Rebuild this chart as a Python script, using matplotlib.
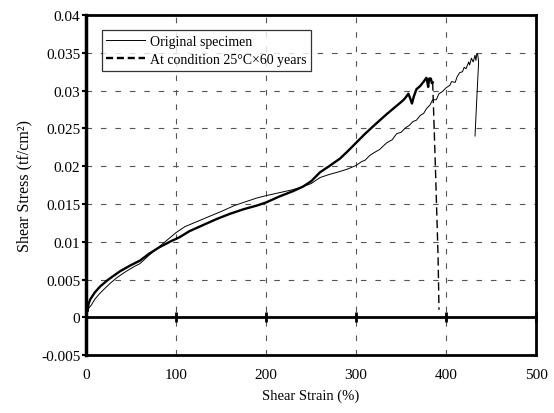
import numpy as np
import matplotlib
matplotlib.use("Agg")
import matplotlib.pyplot as plt

plt.rcParams["font.family"] = ["Liberation Serif", "DejaVu Serif"]
plt.rcParams["font.size"] = 10.5

# --- data ---
orig_x = [0, 1, 3, 6, 10, 15, 20, 27, 35, 45, 55, 60, 70, 82, 90, 100, 110,
          120, 130, 140, 152, 165, 180, 190, 200, 215, 230, 241, 250, 260,
          270, 282, 290, 300, 306, 310, 315, 320, 326, 334, 340, 345, 350,
          355, 359, 363, 367, 371, 375, 378, 382, 385, 389, 392, 396, 400,
          404, 406, 410, 412, 415, 418, 420, 422, 425, 426, 428, 430, 432,
          433, 434, 435, 436, 434, 432]
orig_y = [0.0, 0.0008, 0.0012, 0.0016, 0.0024, 0.0031, 0.0037, 0.0045,
          0.0053, 0.0061, 0.0068, 0.0071, 0.0082, 0.0094, 0.0102, 0.0112,
          0.0120, 0.0125, 0.0130, 0.0135, 0.0141, 0.0148, 0.0154, 0.0158,
          0.0161, 0.0165, 0.0169, 0.0173, 0.0177, 0.0185, 0.0189, 0.0193,
          0.0196, 0.0201, 0.0206, 0.0208, 0.0214, 0.0218, 0.0222, 0.0231,
          0.0235, 0.0243, 0.0245, 0.0251, 0.0254, 0.0259, 0.0261, 0.0267,
          0.0270, 0.0276, 0.0281, 0.0288, 0.0288, 0.0296, 0.0299, 0.0304,
          0.0307, 0.0312, 0.0311, 0.0318, 0.0324, 0.0325, 0.0331, 0.0329,
          0.0338, 0.0334, 0.0343, 0.0338, 0.0347, 0.0340, 0.0349, 0.0348,
          0.0338, 0.0290, 0.0240]

aged_x = [0, 1, 2, 3, 5, 10, 16, 25, 38, 50, 60, 70, 82, 95, 104, 115, 130,
          145, 160, 175, 190, 200, 215, 230, 241, 250, 260, 270, 282, 290,
          300, 310, 320, 334, 342, 349, 352, 355, 358, 360, 362, 364, 367,
          371, 375, 378, 379, 380, 381, 383, 384, 385]
aged_y = [0.0, 0.0012, 0.0008, 0.0018, 0.0024, 0.0033, 0.0041, 0.0050,
          0.0061, 0.0069, 0.0075, 0.0084, 0.0093, 0.0101, 0.0106, 0.0114,
          0.0122, 0.0130, 0.0137, 0.0143, 0.0148, 0.0152, 0.0160, 0.0167,
          0.0173, 0.0180, 0.0192, 0.0200, 0.0210, 0.0219, 0.0231, 0.0243,
          0.0254, 0.0269, 0.0277, 0.0284, 0.0287, 0.0291, 0.0296, 0.0290,
          0.0283, 0.0292, 0.0302, 0.0306, 0.0312, 0.0317, 0.0312, 0.0305,
          0.0316, 0.0316, 0.0310, 0.0311]
# failure (drop) part of aged specimen
drop_x = [385, 388, 391, 392]
drop_y = [0.0311, 0.0200, 0.0080, 0.0010]

xticks = [0, 100, 200, 300, 400, 500]
yticks = [-0.005, 0, 0.005, 0.01, 0.015, 0.02, 0.025, 0.03, 0.035, 0.04]
ytick_labels = ["-0.005", "0", "0.005", "0.01", "0.015", "0.02", "0.025",
                "0.03", "0.035", "0.04"]

fig = plt.figure(figsize=(5.54, 4.14), dpi=100)
ax = fig.add_axes([0.155, 0.140, 0.813, 0.821])

grid_kw = dict(color="#555555", lw=0.8, linestyle=(0, (5, 8)), zorder=1)
for t in xticks[1:-1]:
    ax.axvline(t, **grid_kw)
for t in yticks[2:-1]:
    ax.axhline(t, **grid_kw)
ax.axhline(0, color="black", lw=2, zorder=2)
ax.plot(xticks, [0] * len(xticks), ls="none", marker="|", ms=7, mew=2,
        color="black", zorder=2, clip_on=False)

ax.plot(orig_x, orig_y, color="black", lw=0.7, zorder=3,
        label="Original specimen")
ax.plot(aged_x, aged_y, color="black", lw=1.7, zorder=3)
ax.plot(drop_x, drop_y, color="black", lw=1.0, ls=(0, (6, 3)), zorder=3)
ax.plot([], [], color="black", lw=1.7, ls=(0, (3, 1.6)),
        label="At condition 25°C×60 years")

ax.set_xlim(0, 500)
ax.set_ylim(-0.005, 0.04)
ax.set_xticks(xticks)
ax.set_yticks(yticks)
ax.set_yticklabels(ytick_labels)
ax.tick_params(axis="both", labelsize=11)
ax.tick_params(axis="x", length=0, pad=9)
ax.tick_params(axis="y", direction="out", length=3, width=1.5, pad=1)
for s in ax.spines.values():
    s.set_linewidth(2)
ax.spines["left"].set_linewidth(2.5)

ax.set_xlabel("Shear Strain (%)", labelpad=6)
ax.set_ylabel("Shear Stress (tf/cm²)", labelpad=6, fontsize=11.5)

leg = ax.legend(loc="upper left", bbox_to_anchor=(0.035, 0.955),
                frameon=True, fancybox=False, handlelength=2.8,
                borderpad=0.35, labelspacing=0.35, handletextpad=0.3,
                borderaxespad=0, fontsize=10)
leg.get_frame().set_edgecolor("black")
leg.get_frame().set_linewidth(0.9)

fig.savefig("out.png", dpi=100)
